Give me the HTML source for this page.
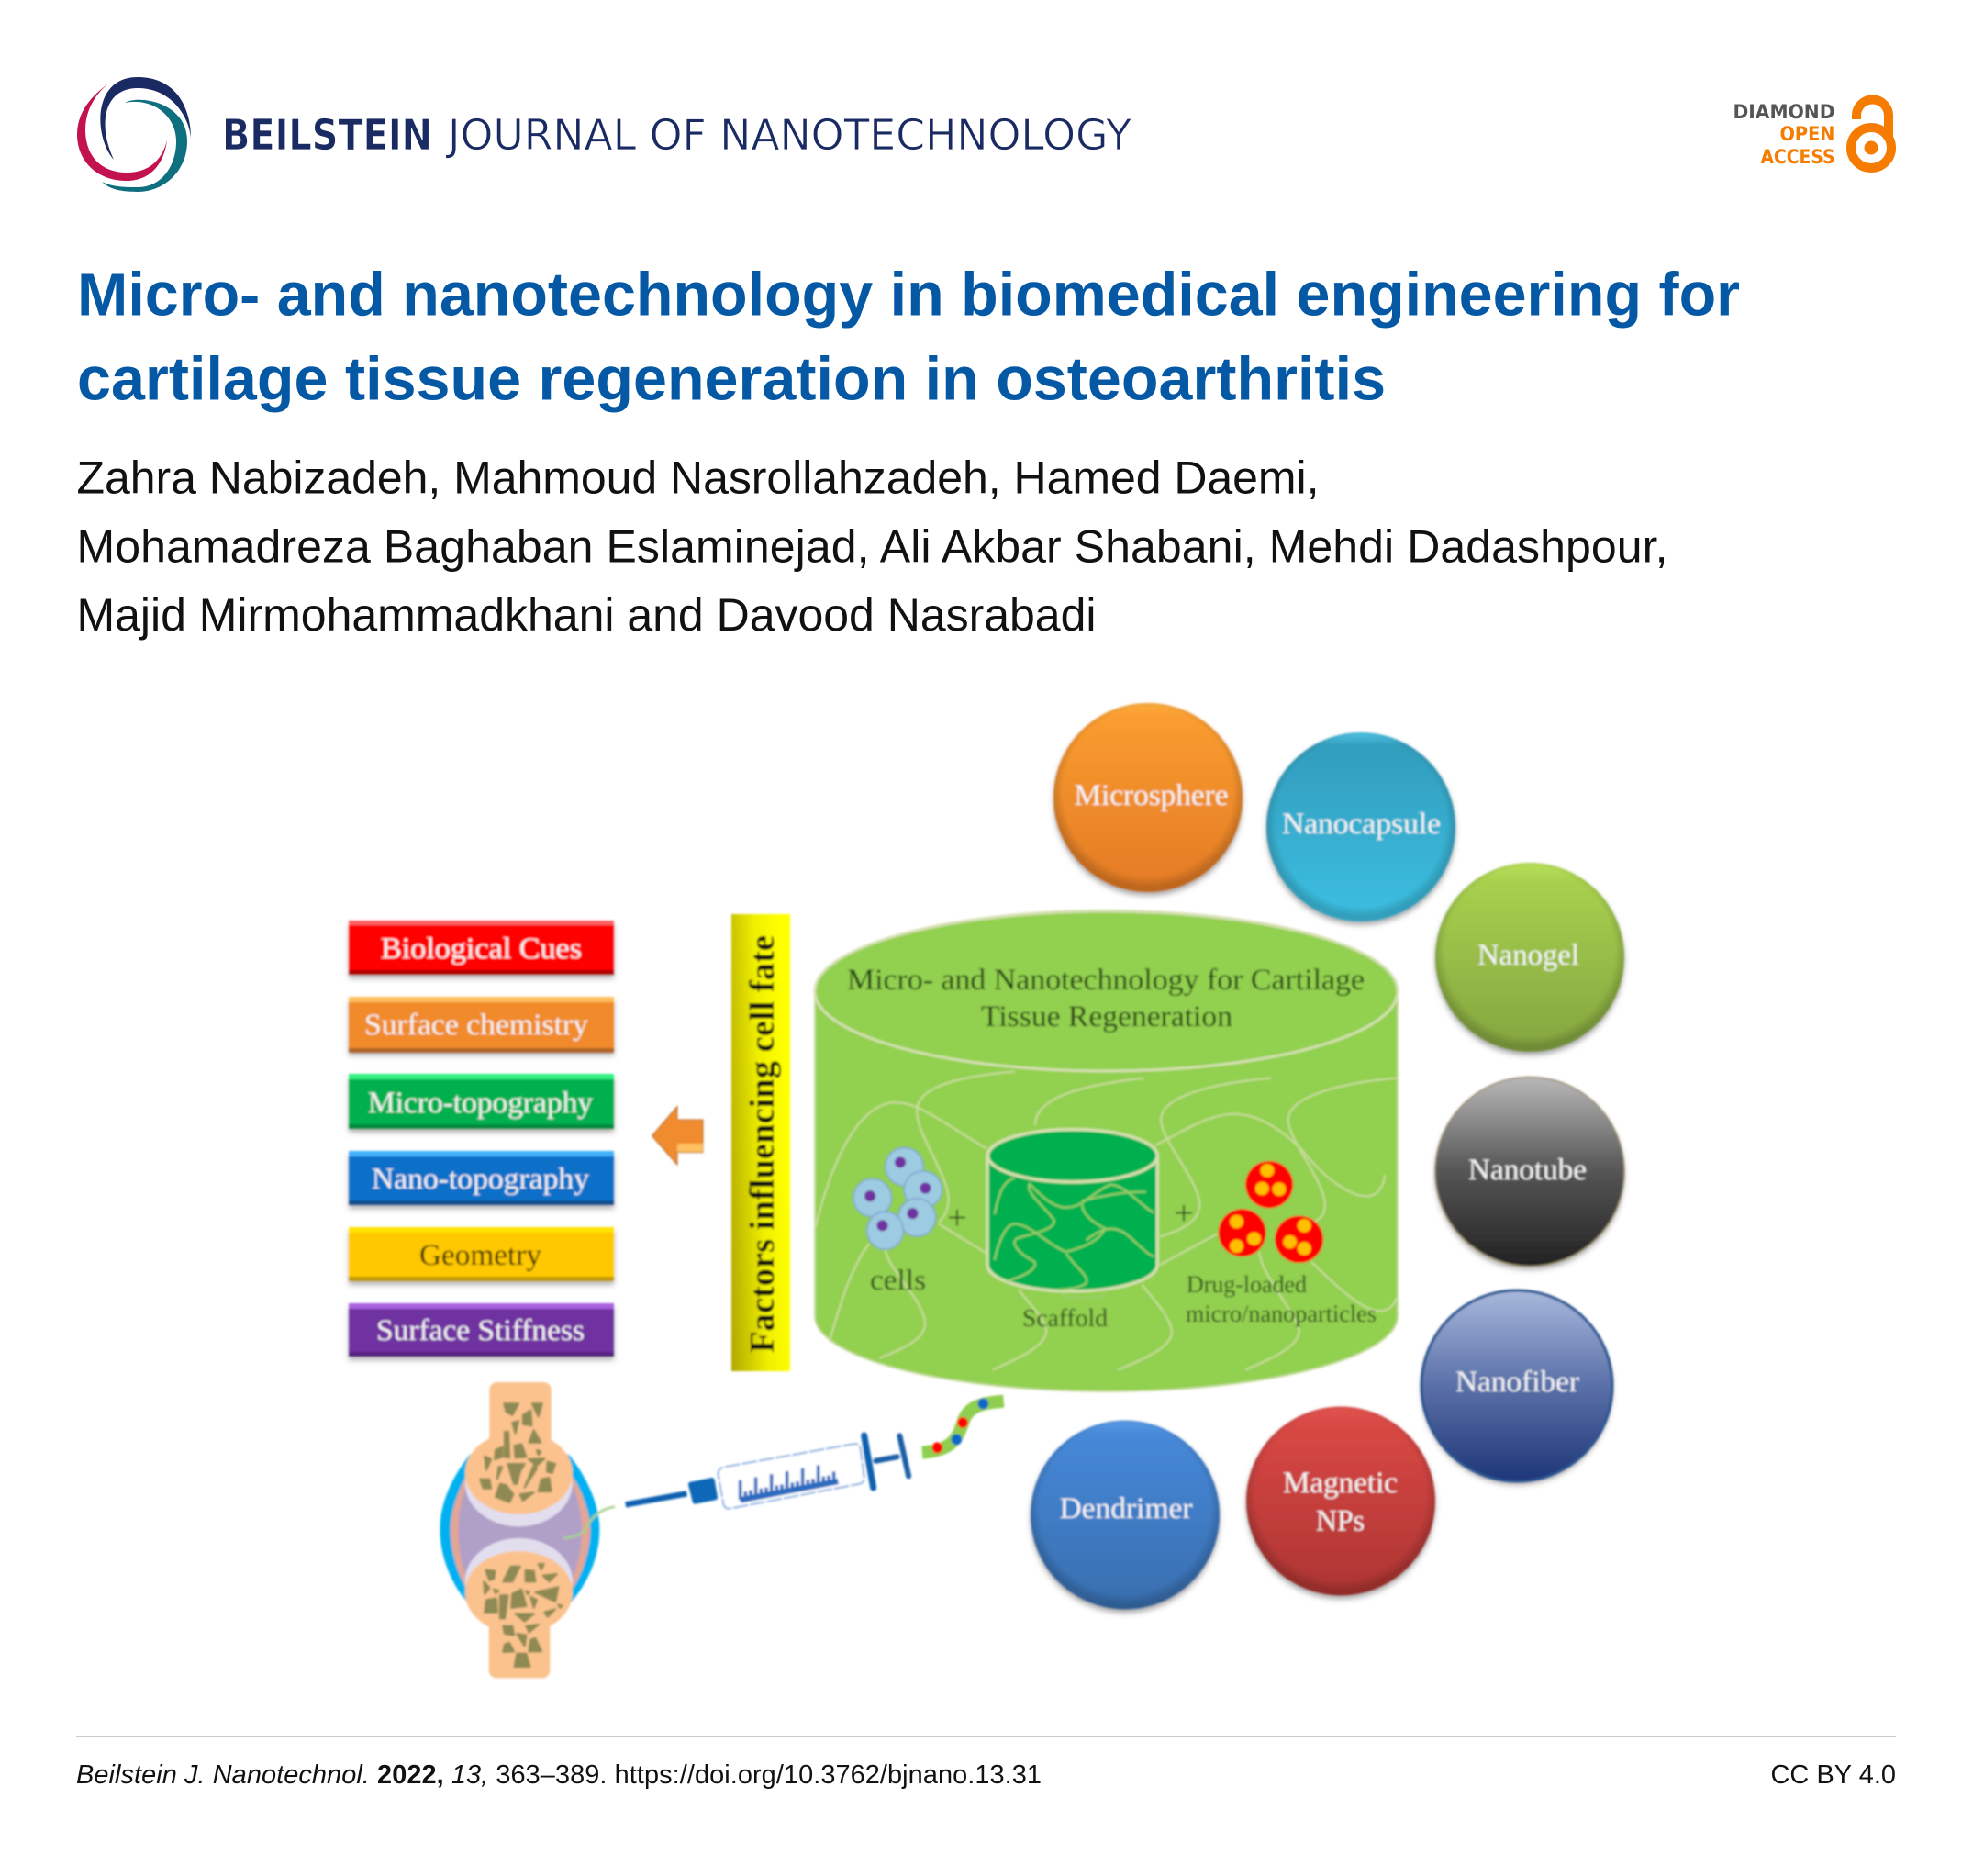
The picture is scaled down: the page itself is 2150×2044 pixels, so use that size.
<!DOCTYPE html>
<html lang="en">
<head>
<meta charset="utf-8">
<title>Micro- and nanotechnology in biomedical engineering for cartilage tissue regeneration in osteoarthritis</title>
<style>
html,body{margin:0;padding:0;background:#fff;width:2150px;height:2044px;overflow:hidden}
svg{display:block}
.sans{font-family:"Liberation Sans",sans-serif}
.dj{font-family:"DejaVu Sans","Liberation Sans",sans-serif}
.se{font-family:"Liberation Serif",serif}
</style>
</head>
<body>
<svg width="2150" height="2044" viewBox="0 0 2150 2044" xmlns="http://www.w3.org/2000/svg">
<defs>
<filter id="soft" x="-2%" y="-2%" width="104%" height="104%"><feGaussianBlur stdDeviation="1.1"/></filter>
<filter id="shadow" x="-10%" y="-10%" width="120%" height="130%"><feGaussianBlur stdDeviation="3"/></filter>
<linearGradient id="bar" x1="0" y1="1" x2="1" y2="0.75"><stop offset="0" stop-color="#b0a800"/><stop offset=".6" stop-color="#f0f000"/><stop offset="1" stop-color="#ffff00"/></linearGradient>
<linearGradient id="gO" x1="0" y1="0" x2="0" y2="1"><stop offset="0" stop-color="#fbab3c"/><stop offset=".08" stop-color="#fa9c30"/><stop offset="1" stop-color="#e27a24"/></linearGradient>
<linearGradient id="gC" x1="0" y1="0" x2="0" y2="1"><stop offset="0" stop-color="#4fc4e4"/><stop offset=".07" stop-color="#329dbd"/><stop offset="1" stop-color="#3cbfe2"/></linearGradient>
<linearGradient id="gG" x1="0" y1="0" x2="0" y2="1"><stop offset="0" stop-color="#b8e05a"/><stop offset=".1" stop-color="#a8d04e"/><stop offset="1" stop-color="#84a540"/></linearGradient>
<linearGradient id="gK" x1="0" y1="0" x2="0" y2="1"><stop offset="0" stop-color="#b8b8b8"/><stop offset=".5" stop-color="#555"/><stop offset="1" stop-color="#222"/></linearGradient>
<linearGradient id="gN" x1="0" y1="0" x2="0" y2="1"><stop offset="0" stop-color="#a8b8dc"/><stop offset=".5" stop-color="#5a70a8"/><stop offset="1" stop-color="#1e3678"/></linearGradient>
<linearGradient id="gR" x1="0" y1="0" x2="0" y2="1"><stop offset="0" stop-color="#e25450"/><stop offset=".1" stop-color="#d84844"/><stop offset="1" stop-color="#ad3432"/></linearGradient>
<linearGradient id="gB" x1="0" y1="0" x2="0" y2="1"><stop offset="0" stop-color="#5a9ae6"/><stop offset=".08" stop-color="#4688d8"/><stop offset="1" stop-color="#386eae"/></linearGradient>
<radialGradient id="rim" cx=".5" cy=".47" r=".5"><stop offset=".9" stop-color="#000" stop-opacity="0"/><stop offset="1" stop-color="#000" stop-opacity=".16"/></radialGradient>
</defs>

<!-- Logo -->
<g transform="translate(1,1)">
<path fill="#1a2b63" d="M123 173C102 150 98 83 149 83C190 83 207 115 207 150C205 125 185 95 149 95C112 95 105 135 123 173Z"/>
<path fill="#c2124f" d="M119 89C95 105 83 125 83 145C83 175 105 196 137 196C165 196 178 175 181 152C175 175 160 187 137 187C110 187 92 170 92 140C92 120 103 100 119 89Z"/>
<path fill="#0e6f7f" d="M135 111C150 102 203 110 203 153C203 185 178 208 149 208C130 208 118 205 110 197C122 203 135 203 149 203C175 203 191 180 191 153C191 125 165 105 135 111Z"/>
</g>
<text class="dj" x="242" y="163" font-size="46" font-weight="700" fill="#1a2b63" stroke="#fff" stroke-width=".8" textLength="229" lengthAdjust="spacingAndGlyphs">BEILSTEIN</text>
<text class="dj" x="488" y="163" font-size="46" fill="#1a2b63" stroke="#fff" stroke-width=".8" textLength="745" lengthAdjust="spacingAndGlyphs">JOURNAL OF NANOTECHNOLOGY</text>

<!-- Open access badge -->
<g class="dj" font-size="21" font-weight="700" text-anchor="end">
<text x="1999.500" y="129" fill="#555" textLength="111" lengthAdjust="spacingAndGlyphs">DIAMOND</text>
<text x="1999.500" y="153" fill="#f57c00" textLength="60" lengthAdjust="spacingAndGlyphs">OPEN</text>
<text x="1999.500" y="178" fill="#f57c00" textLength="81" lengthAdjust="spacingAndGlyphs">ACCESS</text>
</g>
<path d="M2023 130V126A17.500 17.500 0 0 1 2058 126V150" fill="none" stroke="#f57c00" stroke-width="10"/>
<circle cx="2039" cy="161" r="22" fill="none" stroke="#f57c00" stroke-width="10"/>
<circle cx="2039" cy="161" r="7.500" fill="#f57c00"/>

<!-- Title -->
<g class="sans" font-weight="700" font-size="66.400" fill="#0558a4">
<text x="84" y="343.500" textLength="1812">Micro- and nanotechnology in biomedical engineering for</text>
<text x="84" y="435.700" textLength="1426">cartilage tissue regeneration in osteoarthritis</text>
</g>
<!-- Authors -->
<g class="sans" font-size="50" fill="#111">
<text x="83.500" y="537.700" textLength="1354">Zahra Nabizadeh, Mahmoud Nasrollahzadeh, Hamed Daemi,</text>
<text x="83.500" y="612.400" textLength="1734">Mohamadreza Baghaban Eslaminejad, Ali Akbar Shabani, Mehdi Dadashpour,</text>
<text x="83.500" y="687" textLength="1111">Majid Mirmohammadkhani and Davood Nasrabadi</text>
</g>

<!-- Figure -->
<g filter="url(#soft)">
<!-- Factor boxes -->
<g>
<rect x="380" y="1007" width="289" height="59" fill="#777" opacity=".55" filter="url(#shadow)"/>
<rect x="380" y="1003" width="289" height="59" fill="#ff0000"/><rect x="380" y="1003" width="289" height="5" fill="#ff6060"/><rect x="380" y="1057" width="289" height="5" fill="#b00000"/>
<rect x="380" y="1090" width="289" height="60" fill="#777" opacity=".55" filter="url(#shadow)"/>
<rect x="380" y="1086" width="289" height="61" fill="#f08a2c"/><rect x="380" y="1086" width="289" height="6" fill="#ffc060"/><rect x="380" y="1142" width="289" height="5" fill="#ad6525"/>
<rect x="380" y="1174" width="289" height="60" fill="#777" opacity=".55" filter="url(#shadow)"/>
<rect x="380" y="1170" width="289" height="60" fill="#00b050"/><rect x="380" y="1170" width="289" height="6" fill="#30f080"/><rect x="380" y="1225" width="289" height="5" fill="#008a40"/>
<rect x="380" y="1258" width="289" height="59" fill="#777" opacity=".55" filter="url(#shadow)"/>
<rect x="380" y="1254" width="289" height="59" fill="#0a70c8"/><rect x="380" y="1254" width="289" height="6" fill="#40b0f8"/><rect x="380" y="1308" width="289" height="5" fill="#0a5090"/>
<rect x="380" y="1341" width="289" height="59" fill="#777" opacity=".55" filter="url(#shadow)"/>
<rect x="380" y="1337" width="289" height="59" fill="#ffc800"/><rect x="380" y="1337" width="289" height="6" fill="#ffe400"/><rect x="380" y="1391" width="289" height="5" fill="#c09a00"/>
<rect x="380" y="1424" width="289" height="58" fill="#777" opacity=".55" filter="url(#shadow)"/>
<rect x="380" y="1420" width="289" height="58" fill="#7030a0"/><rect x="380" y="1420" width="289" height="6" fill="#a860e0"/><rect x="380" y="1473" width="289" height="5" fill="#552080"/>
</g>
<g class="se" font-size="33" fill="#f4f4f4">
<text x="415" y="1044" textLength="219" lengthAdjust="spacingAndGlyphs">Biological Cues</text>
<text x="397" y="1127" textLength="244" lengthAdjust="spacingAndGlyphs">Surface chemistry</text>
<text x="401" y="1212" textLength="245" lengthAdjust="spacingAndGlyphs">Micro-topography</text>
<text x="405" y="1295" textLength="237" lengthAdjust="spacingAndGlyphs">Nano-topography</text>
<text x="457" y="1378" textLength="133" lengthAdjust="spacingAndGlyphs" fill="#1c1c00">Geometry</text>
<text x="410" y="1460" textLength="227" lengthAdjust="spacingAndGlyphs">Surface Stiffness</text>
</g>

<!-- Yellow bar -->
<rect x="797" y="996" width="64" height="498" fill="url(#bar)"/>
<text class="se" transform="translate(843,1474) rotate(-90)" font-size="38" font-weight="700" fill="#111" textLength="455" lengthAdjust="spacingAndGlyphs">Factors influencing cell fate</text>

<!-- Arrow -->
<polygon points="710.500,1237.600 738,1205.500 738,1220 766,1220 766,1255.500 738,1255.500 738,1269" fill="#f08c2e" stroke="#b8682a" stroke-width="1"/>
<polygon points="738,1246 766,1246 766,1255 738,1255" fill="#ffc060"/>

<!-- Big cylinder -->
<path d="M888 1080A317.500 88 0 0 1 1523 1080V1434A317.500 82 0 0 1 888 1434Z" fill="#92d050" stroke="#c8dca0" stroke-width="2"/>
<ellipse cx="1205.500" cy="1080" rx="317.500" ry="87" fill="none" stroke="#d5e0b0" stroke-width="3"/>
<g class="se" font-size="33" fill="#1d3a10">
<text x="923" y="1078" textLength="564" lengthAdjust="spacingAndGlyphs">Micro- and Nanotechnology for Cartilage</text>
<text x="1069" y="1118" textLength="274" lengthAdjust="spacingAndGlyphs">Tissue Regeneration</text>
</g>
<g transform="translate(880,980) scale(.4337,.3571)">
<g fill="none" stroke="#cbdd9f" stroke-width="2">
<path vector-effect="non-scaling-stroke" d="M520 525C380 540 280 570 275 640C270 700 330 800 350 880C360 930 350 960 330 985"/>
<path vector-effect="non-scaling-stroke" d="M20 1000C50 850 110 640 210 620C270 615 300 650 450 760"/>
<path vector-effect="non-scaling-stroke" d="M330 990L450 1080"/>
<path vector-effect="non-scaling-stroke" d="M155 1050C110 1120 80 1240 55 1350"/>
<path vector-effect="non-scaling-stroke" d="M195 1065C200 1130 300 1230 295 1300C290 1350 220 1380 180 1400"/>
<path vector-effect="non-scaling-stroke" d="M845 545C700 565 570 600 572 690"/>
<path vector-effect="non-scaling-stroke" d="M1165 545C1020 560 890 600 888 670C885 730 985 860 985 930C985 990 930 1010 885 1030"/>
<path vector-effect="non-scaling-stroke" d="M875 750C950 700 1020 650 1080 655C1150 660 1220 730 1260 790C1310 860 1370 910 1410 905C1440 900 1450 860 1450 840"/>
<path vector-effect="non-scaling-stroke" d="M1480 545C1340 560 1210 600 1208 670C1205 730 1300 860 1300 930C1300 960 1290 975 1270 985"/>
<path vector-effect="non-scaling-stroke" d="M885 1115L1030 1020"/>
<path vector-effect="non-scaling-stroke" d="M1265 1105C1320 1170 1400 1265 1445 1255C1465 1250 1475 1235 1480 1215"/>
<path vector-effect="non-scaling-stroke" d="M1135 1075C1140 1150 1235 1270 1235 1320C1230 1370 1150 1410 1100 1435"/>
<path vector-effect="non-scaling-stroke" d="M840 1175C870 1220 915 1280 915 1320C915 1370 830 1410 780 1435"/>
<path vector-effect="non-scaling-stroke" d="M530 1190C560 1240 600 1280 600 1320C595 1370 510 1410 465 1435"/>
</g>
<!-- scaffold -->
<path vector-effect="non-scaling-stroke" d="M452 782A213 80 0 0 1 879 782V1115A213 80 0 0 1 452 1115Z" fill="#00b050" stroke="#d5e0b0" stroke-width="3.500"/>
<ellipse vector-effect="non-scaling-stroke" cx="666" cy="782" rx="213" ry="80" fill="#00b050" stroke="#d5e0b0" stroke-width="3.500"/>
<g fill="none" stroke="#9bd06a" stroke-width="2">
<path vector-effect="non-scaling-stroke" d="M470 960C480 900 490 860 520 850"/>
<path vector-effect="non-scaling-stroke" d="M560 865C540 890 600 940 620 980C620 1010 560 1020 525 1035C510 1050 530 1080 570 1105C580 1130 540 1150 500 1165"/>
<path vector-effect="non-scaling-stroke" d="M470 1100C480 1040 500 990 520 990C560 990 610 1060 650 1075C700 1060 730 1040 745 1010"/>
<path vector-effect="non-scaling-stroke" d="M560 870C590 910 620 940 650 940C690 940 710 900 760 870C800 870 840 940 870 955"/>
<path vector-effect="non-scaling-stroke" d="M690 920C720 910 790 890 850 893"/>
<path vector-effect="non-scaling-stroke" d="M690 930C690 970 740 1000 750 1005"/>
<path vector-effect="non-scaling-stroke" d="M650 1080C670 1120 710 1150 700 1170C690 1185 650 1190 630 1190"/>
<path vector-effect="non-scaling-stroke" d="M700 1040C740 1000 770 995 800 1020C830 1050 850 1080 870 1090"/>
<path vector-effect="non-scaling-stroke" d="M635 1205C660 1220 720 1220 750 1205"/>
</g>
<!-- cells -->
<g fill="#9ccbe2" stroke="#7d9fcb" stroke-width="1.300">
<ellipse vector-effect="non-scaling-stroke" cx="243" cy="815" rx="48" ry="58"/>
<ellipse vector-effect="non-scaling-stroke" cx="290" cy="885" rx="48" ry="56"/>
<ellipse vector-effect="non-scaling-stroke" cx="163" cy="910" rx="48" ry="58"/>
<ellipse vector-effect="non-scaling-stroke" cx="275" cy="970" rx="47" ry="58"/>
<ellipse vector-effect="non-scaling-stroke" cx="195" cy="1010" rx="46" ry="58"/>
</g>
<g fill="#7030a0">
<ellipse cx="233" cy="802" rx="14" ry="17"/><ellipse cx="296" cy="881" rx="14" ry="17"/><ellipse cx="157" cy="905" rx="14" ry="17"/><ellipse cx="264" cy="958" rx="14" ry="17"/><ellipse cx="188" cy="995" rx="14" ry="17"/>
</g>
<!-- particles -->
<g fill="#ff0000">
<ellipse cx="1160" cy="870" rx="60" ry="72"/><ellipse cx="1092" cy="1017" rx="60" ry="73"/><ellipse cx="1235" cy="1037" rx="61" ry="72"/>
</g>
<g fill="#ffc000">
<ellipse cx="1155" cy="827" rx="17" ry="20"/><ellipse cx="1142" cy="882" rx="17" ry="20"/><ellipse cx="1185" cy="884" rx="17" ry="20"/>
<ellipse cx="1078" cy="983" rx="17" ry="20"/><ellipse cx="1122" cy="1035" rx="17" ry="20"/><ellipse cx="1078" cy="1058" rx="17" ry="20"/>
<ellipse cx="1248" cy="995" rx="17" ry="20"/><ellipse cx="1212" cy="1045" rx="17" ry="20"/><ellipse cx="1248" cy="1065" rx="17" ry="20"/>
</g>
</g>
<g class="se" fill="#2c4a1c">
<text x="948" y="1405" font-size="32" textLength="61" lengthAdjust="spacingAndGlyphs">cells</text>
<text x="1114" y="1445" font-size="27" textLength="93" lengthAdjust="spacingAndGlyphs">Scaffold</text>
<text x="1293" y="1408" font-size="26" textLength="131" lengthAdjust="spacingAndGlyphs">Drug-loaded</text>
<text x="1292" y="1440" font-size="26" textLength="208" lengthAdjust="spacingAndGlyphs">micro/nanoparticles</text>
<text x="1043" y="1339" font-size="38" text-anchor="middle">+</text>
<text x="1290" y="1334" font-size="38" text-anchor="middle">+</text>
</g>

<!-- Joint -->
<g transform="translate(470,1500) scale(.33333)">
<path d="M125 255C60 340 28 420 28 500C28 590 70 690 125 745L450 745C510 680 550 590 550 500C550 420 510 330 450 255Z" fill="#00b0f0"/>
<path d="M110 330C80 390 62 450 62 500C62 570 85 640 112 690L465 690C495 640 520 570 520 500C520 450 495 380 465 330Z" fill="#e3a596"/>
<path d="M115 345C100 400 88 450 88 500C88 560 100 620 115 660L462 660C478 620 492 560 492 500C492 450 478 400 462 345Z" fill="#b0a0c8"/>
<ellipse cx="286" cy="345" rx="176" ry="145" fill="#e2deee"/>
<ellipse cx="286" cy="670" rx="176" ry="142" fill="#e2deee"/>
<rect x="190" y="18" width="202" height="230" rx="25" fill="#fbc28e"/>
<ellipse cx="286" cy="315" rx="176" ry="135" fill="#fbc28e"/>
<rect x="188" y="770" width="200" height="215" rx="25" fill="#fbc28e"/>
<ellipse cx="286" cy="705" rx="176" ry="135" fill="#fbc28e"/>
<g fill="#8f8a52" stroke="#8f8a52" stroke-width="7" stroke-linejoin="round">
<polygon points="238,88 285,88 265,125 245,115"/><polygon points="330,88 362,88 350,130"/><polygon points="300,125 325,110 328,160 300,155"/><polygon points="265,150 285,145 275,185"/><polygon points="320,215 335,175 358,215"/><polygon points="240,180 252,180 255,265 240,262"/><polygon points="272,225 295,220 310,262 275,265"/><polygon points="210,240 232,230 232,262 208,270"/><polygon points="345,240 358,245 350,255"/><polygon points="175,260 195,270 180,305"/><polygon points="318,270 370,268 345,290"/><polygon points="380,278 405,285 395,315 378,310"/><polygon points="250,285 305,285 290,310 280,350 270,350"/><polygon points="220,295 232,295 215,335"/><polygon points="335,290 345,300 305,362"/><polygon points="160,335 190,335 195,365 170,365"/><polygon points="360,335 385,330 392,375 350,375"/><polygon points="225,350 245,355 268,385 255,410 210,392"/><polygon points="290,385 335,378 300,405"/>
<polygon points="178,632 208,635 205,660 190,665"/><polygon points="235,670 260,620 290,620 265,670"/><polygon points="308,632 335,635 340,670 308,670"/><polygon points="350,612 368,612 360,630"/><polygon points="365,650 410,645 385,670"/><polygon points="172,670 190,690 175,710"/><polygon points="205,695 220,700 210,708"/><polygon points="180,730 212,725 215,770 175,770"/><polygon points="265,710 295,695 310,750 262,755"/><polygon points="225,715 250,715 240,790 225,790"/><polygon points="340,705 415,688 405,735"/><polygon points="310,700 320,705 315,712"/><polygon points="325,720 345,730 335,755"/><polygon points="370,770 405,760 380,785"/><polygon points="415,745 428,750 420,755"/><polygon points="275,775 335,775 305,800"/><polygon points="235,815 265,815 270,845 240,840"/><polygon points="310,815 350,810 320,835"/><polygon points="280,840 310,845 305,880"/><polygon points="325,860 340,855 360,898 320,898"/><polygon points="240,875 255,870 270,898 235,900"/><polygon points="280,905 310,905 322,948 272,948"/>
</g>
<path d="M432 528C470 525 495 515 510 490C525 455 560 430 600 425" fill="none" stroke="#a8d08d" stroke-width="8"/>
</g>

<!-- Syringe -->
<g transform="translate(670,1540) scale(.33333)">
<path d="M35 298L235 262" stroke="#1060b0" stroke-width="19" fill="none"/>
<path d="M248 232L318 218L328 275L262 288Z" fill="#0a68b8" stroke="#0a68b8" stroke-width="16" stroke-linejoin="round"/>
<path d="M360 175L780 100Q800 97 803 115L815 210Q817 225 800 230L380 310Q360 315 355 295L338 200Q335 180 360 175Z" fill="#fff" stroke="#8db0e0" stroke-width="6" stroke-dasharray="50 6"/>
<path d="M410 283L730 222" fill="none" stroke="#2a6cc0" stroke-width="20"/>
<path d="M410 283V218M427 280V255M444 276V251M461 273V208M478 270V245M495 267V242M512 263V198M529 260V235M546 257V232M563 254V189M580 251V226M597 247V222M614 244V179M631 241V216M648 238V213M665 234V169M682 231V206M699 228V203M716 225V190" fill="none" stroke="#2a6cc0" stroke-width="11"/>
<path d="M815 72L845 243" stroke="#1060b0" stroke-width="21" stroke-linecap="round" fill="none"/>
</g>
<g transform="translate(450,1480) scale(.4464,.3333)">
<path vector-effect="non-scaling-stroke" d="M1130 335L1182 322" stroke="#1a5fa8" stroke-width="6" fill="none" stroke-linecap="round"/>
<path vector-effect="non-scaling-stroke" d="M1188 253L1210 385" stroke="#1a5fa8" stroke-width="6" fill="none" stroke-linecap="round"/>
<!-- ribbon -->
<path vector-effect="non-scaling-stroke" d="M1243 308C1320 300 1330 260 1345 200C1360 150 1400 145 1442 140" fill="none" stroke="#8fcf4f" stroke-width="14"/>
<ellipse cx="1280" cy="292" rx="13" ry="18" fill="#ff0000"/><ellipse cx="1327" cy="265" rx="13" ry="18" fill="#0a68c8"/><ellipse cx="1342" cy="210" rx="13" ry="18" fill="#ff0000"/><ellipse cx="1392" cy="148" rx="13" ry="18" fill="#0a68c8"/>
</g>

<!-- Bubbles -->
<g fill="#666" opacity=".55" filter="url(#shadow)">
<circle cx="1251" cy="873" r="103"/><circle cx="1483" cy="905" r="103"/><circle cx="1667" cy="1047" r="103"/><circle cx="1667" cy="1280.500" r="103"/><circle cx="1653" cy="1514" r="104"/><circle cx="1461" cy="1639.500" r="103"/><circle cx="1226" cy="1654.500" r="103"/>
</g>
<circle cx="1251" cy="869" r="103" fill="url(#gO)"/><circle cx="1251" cy="869" r="103" fill="url(#rim)"/>
<circle cx="1483" cy="901" r="103" fill="url(#gC)"/><circle cx="1483" cy="901" r="103" fill="url(#rim)"/>
<circle cx="1667" cy="1043" r="103" fill="url(#gG)"/><circle cx="1667" cy="1043" r="103" fill="url(#rim)"/>
<circle cx="1667" cy="1276.500" r="103" fill="url(#gK)" stroke="#9a9070" stroke-width="1.500"/>
<circle cx="1653" cy="1510" r="104" fill="url(#gN)" stroke="#2a5590" stroke-width="3"/>
<circle cx="1461" cy="1635.500" r="103" fill="url(#gR)"/><circle cx="1461" cy="1635.500" r="103" fill="url(#rim)"/>
<circle cx="1226" cy="1650.500" r="103" fill="url(#gB)"/><circle cx="1226" cy="1650.500" r="103" fill="url(#rim)"/>
<g class="se" font-size="33" fill="#f6f6f6">
<text x="1170.500" y="877" textLength="168" lengthAdjust="spacingAndGlyphs">Microsphere</text>
<text x="1397" y="908" textLength="173" lengthAdjust="spacingAndGlyphs">Nanocapsule</text>
<text x="1610" y="1051" textLength="111" lengthAdjust="spacingAndGlyphs">Nanogel</text>
<text x="1600" y="1285" textLength="129" lengthAdjust="spacingAndGlyphs">Nanotube</text>
<text x="1586" y="1516" textLength="135" lengthAdjust="spacingAndGlyphs">Nanofiber</text>
<text x="1398" y="1626" textLength="125" lengthAdjust="spacingAndGlyphs">Magnetic</text>
<text x="1434" y="1667.500" textLength="53" lengthAdjust="spacingAndGlyphs">NPs</text>
<text x="1154.500" y="1654" textLength="145" lengthAdjust="spacingAndGlyphs">Dendrimer</text>
</g>
</g>

<!-- Footer -->
<rect x="83" y="1891" width="1983" height="2" fill="#ccc"/>
<text class="sans" x="83" y="1943" font-size="28.900" fill="#111" textLength="1052"><tspan font-style="italic">Beilstein J. Nanotechnol.</tspan> <tspan font-weight="700">2022,</tspan> <tspan font-style="italic">13,</tspan> 363–389. https://doi.org/10.3762/bjnano.13.31</text>
<text class="sans" x="1929.500" y="1943" font-size="28.900" fill="#111" textLength="136.500">CC BY 4.0</text>
</svg>
</body>
</html>
